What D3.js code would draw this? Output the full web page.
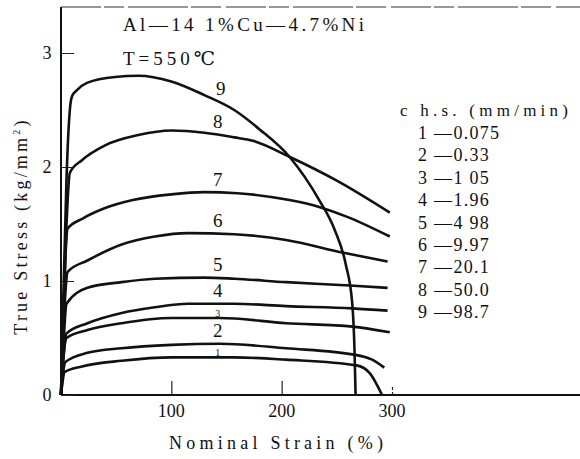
<!DOCTYPE html>
<html>
<head>
<meta charset="utf-8">
<script src="https://cdn.jsdelivr.net/npm/d3@7"></script>
<style>
  html, body { margin: 0; padding: 0; background: #fff; }
  svg { display: block; }
  .wideY { letter-spacing: 3.2px; }
  .leg { letter-spacing: 1.3px; }
</style>
</head>
<body>
<svg id="chart" width="580" height="459" font-family="Liberation Serif, DejaVu Serif, serif"></svg>
<script>
// ---------- data ----------
const curveIds = ["1", "2", "3", "4", "5", "6", "7", "8", "9"];
const crossheadSpeeds = ["0.075", "0.33", "1 05", "1.96", "4 98", "9.97", "20.1", "50.0", "98.7"];

const strain1 = [0, 1.5, 3, 19, 55, 100, 157, 204, 268, 280, 291];
const stress1 = [0, 0.12, 0.20, 0.25, 0.30, 0.33, 0.33, 0.31, 0.26, 0.19, 0];
const strain2 = [0, 2, 4, 24, 55, 100, 144, 204, 268, 282, 293];
const stress2 = [0, 0.2, 0.29, 0.37, 0.41, 0.44, 0.45, 0.41, 0.35, 0.31, 0.24];
const strain3 = [0, 2, 5, 24, 55, 100, 144, 204, 264, 298];
const stress3 = [0, 0.3, 0.50, 0.57, 0.63, 0.675, 0.675, 0.63, 0.60, 0.55];
const strain4 = [0, 2, 5, 24, 55, 85, 115, 157, 204, 264, 296];
const stress4 = [0, 0.3, 0.54, 0.63, 0.72, 0.77, 0.80, 0.80, 0.78, 0.76, 0.74];
const strain5 = [0, 2, 5, 24, 55, 85, 130, 157, 204, 262, 296];
const stress5 = [0, 0.4, 0.8, 0.94, 0.99, 1.02, 1.03, 1.02, 0.99, 0.96, 0.94];
const strain6 = [0, 2, 4, 6, 24, 55, 85, 115, 157, 204, 255, 296];
const stress6 = [0, 0.5, 0.9, 1.08, 1.18, 1.32, 1.39, 1.42, 1.41, 1.36, 1.25, 1.17];
const strain7 = [0, 2, 4, 6, 20, 40, 65, 100, 130, 160, 207, 234, 260, 298];
const stress7 = [0, 0.6, 1.2, 1.46, 1.55, 1.64, 1.71, 1.76, 1.78, 1.77, 1.71, 1.65, 1.56, 1.39];
const strain8 = [0, 2, 5, 8, 19, 40, 70, 100, 130, 157, 174, 207, 250, 298];
const stress8 = [0, 0.7, 1.5, 1.95, 2.06, 2.19, 2.28, 2.32, 2.30, 2.26, 2.23, 2.09, 1.88, 1.60];
const strain9 = [0, 2, 5, 8, 10, 14, 24, 49, 70, 100, 130, 157, 180, 207, 234, 248, 258, 264, 266, 267];
const stress9 = [0, 0.8, 1.9, 2.5, 2.62, 2.67, 2.74, 2.79, 2.80, 2.75, 2.63, 2.50, 2.33, 2.09, 1.71, 1.45, 1.15, 0.80, 0.40, 0];

const xTicks = [100, 200, 300];
const yTicks = [0, 1, 2, 3];
const labelStrain = 142;   // strain where curve numbers are written

const strains = [strain1, strain2, strain3, strain4, strain5, strain6, strain7, strain8, strain9];
const stresses = [stress1, stress2, stress3, stress4, stress5, stress6, stress7, stress8, stress9];

// ---------- layout ----------
const svg = d3.select("#chart");
const W = 580, H = 459;
const x = d3.scaleLinear().domain([0, 300]).range([61, 392]);
const y = d3.scaleLinear().domain([0, 3]).range([395, 53]);
const frameTop = 7;
const ink = "#111";

const series = curveIds.map((id, i) => ({
  id,
  pts: strains[i].map((s, j) => [s, stresses[i][j]])
}));

// axes frame
svg.append("line").attr("x1", x(0)).attr("x2", W).attr("y1", y(0)).attr("y2", y(0))
  .attr("stroke", ink).attr("stroke-width", 2);
svg.append("line").attr("x1", x(0)).attr("x2", x(0)).attr("y1", frameTop).attr("y2", y(0))
  .attr("stroke", ink).attr("stroke-width", 2);
svg.append("line").attr("x1", x(0)).attr("x2", W).attr("y1", frameTop).attr("y2", frameTop)
  .attr("stroke", "#333").attr("stroke-width", 1.2).attr("stroke-dasharray", "40 3 20 4 60 3 30 5");

// y ticks (inward)
const yAxis = d3.axisRight(y).tickValues(yTicks).tickSize(13).tickFormat("");
const gy = svg.append("g").attr("transform", `translate(${x(0)},0)`).call(yAxis);
gy.select(".domain").remove();
gy.selectAll(".tick line").attr("stroke", "#222").attr("stroke-width", 1);
svg.selectAll(".ylab").data(yTicks).enter().append("text")
  .attr("x", 47).attr("y", d => y(d) + 6).attr("text-anchor", "middle")
  .attr("font-size", 18).attr("fill", ink).text(d => d);

// x ticks (inward)
const xAxis = d3.axisTop(x).tickValues(xTicks).tickSize(14).tickFormat("");
const gx = svg.append("g").attr("transform", `translate(0,${y(0)})`).call(xAxis);
gx.select(".domain").remove();
gx.selectAll(".tick line").attr("stroke", "#222").attr("stroke-width", 1.2);
gx.selectAll(".tick").filter(d => d === 300).select("line").attr("y2", -9).attr("stroke-dasharray", "3 2");
svg.selectAll(".xlab").data(xTicks).enter().append("text")
  .attr("x", d => x(d)).attr("y", y(0) + 22).attr("text-anchor", "middle")
  .attr("font-size", 18).attr("fill", ink).text(d => d);

// axis titles
svg.append("text").attr("x", 276).attr("y", 449).attr("text-anchor", "middle")
  .attr("font-size", 18).attr("fill", ink)
  .attr("textLength", 214).attr("lengthAdjust", "spacing")
  .text("Nominal Strain (%)");
const yt = svg.append("text").attr("class", "wideY")
  .attr("transform", "translate(27,226) rotate(-90)")
  .attr("text-anchor", "middle").attr("font-size", 18).attr("fill", ink);
yt.append("tspan").text("True Stress (kg/mm");
yt.append("tspan").attr("font-size", 10).attr("dy", -7).text("2");
yt.append("tspan").attr("dy", 7).text(")");

// curves
const line = d3.line().x(d => x(d[0])).y(d => y(d[1])).curve(d3.curveMonotoneX);
svg.append("g").selectAll("path").data(series).enter().append("path")
  .attr("d", d => line(d.pts)).attr("fill", "none")
  .attr("stroke", ink).attr("stroke-width", 2.6).attr("stroke-linejoin", "round");

// curve numbers
function valueAt(pts, s) {
  for (let i = 1; i < pts.length; i++) {
    if (pts[i][0] >= s) {
      const t = (s - pts[i - 1][0]) / (pts[i][0] - pts[i - 1][0]);
      return pts[i - 1][1] + t * (pts[i][1] - pts[i - 1][1]);
    }
  }
  return pts[pts.length - 1][1];
}
const small = id => id === "1" || id === "3";
svg.selectAll(".clab").data(series).enter().append("text")
  .attr("x", d => x(labelStrain) + (d.id === "9" ? 3 : 0))
  .attr("y", d => y(valueAt(d.pts, labelStrain)) - (small(d.id) ? 1 : 7))
  .attr("text-anchor", "middle").attr("fill", ink)
  .attr("font-size", d => small(d.id) ? 10 : 19)
  .text(d => d.id);

// title texts
svg.append("text").attr("x", 123).attr("y", 31).attr("font-size", 19).attr("fill", ink)
  .attr("textLength", 241).attr("lengthAdjust", "spacing").text("Al—14 1%Cu—4.7%Ni");
svg.append("text").attr("x", 123).attr("y", 65).attr("font-size", 19).attr("fill", ink)
  .attr("textLength", 92).attr("lengthAdjust", "spacing").text("T=550℃");

// legend
svg.append("text").attr("x", 400).attr("y", 116).attr("font-size", 17).attr("fill", ink)
  .attr("textLength", 168).attr("lengthAdjust", "spacing").text("c h.s. (mm/min)");
svg.selectAll(".legrow").data(curveIds).enter().append("text").attr("class", "leg")
  .attr("x", 418).attr("y", (d, i) => 139 + i * 22.4).attr("font-size", 18).attr("fill", ink)
  .text((d, i) => d + " —" + crossheadSpeeds[i]);
</script>
</body>
</html>
